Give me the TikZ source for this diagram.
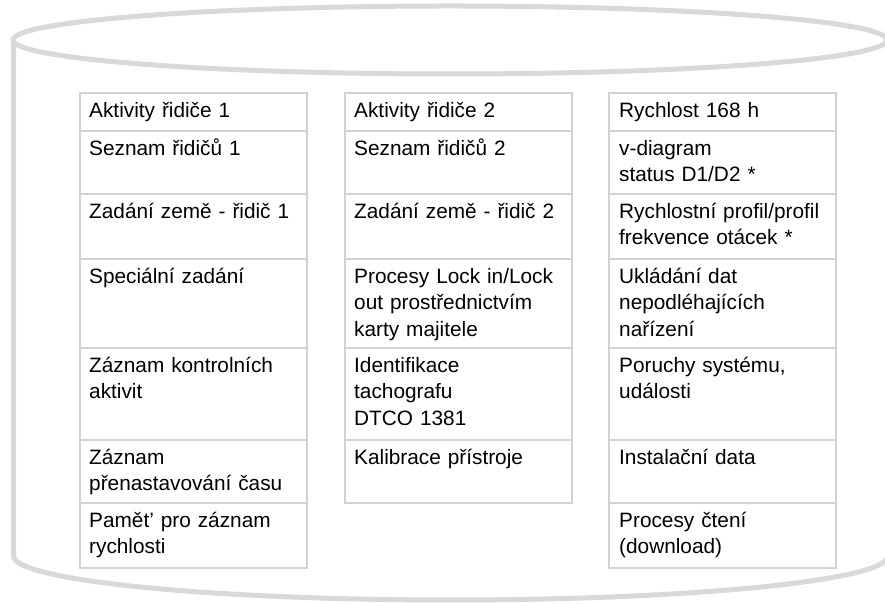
\documentclass[tikz,border=0pt]{standalone}
\usepackage{fontspec}
\setmainfont{Liberation Sans}
\definecolor{cylgray}{RGB}{217,217,217}
\definecolor{cellgray}{RGB}{210,210,210}
\tikzset{
  cyl/.style={draw=cylgray, line width=5pt},
  cell/.style={draw=cellgray, line width=1.6pt, anchor=north west, inner sep=0pt, minimum width=227pt},
  txt/.style={anchor=base west, inner sep=0pt, text width=216pt, align=left, font=\fontsize{20.8}{26.3}\selectfont},
}
\begin{document}
\begin{tikzpicture}[x=1pt,y=1pt]
\useasboundingbox (0,0) rectangle (885,604);
\clip (0,0) rectangle (885,604);
\fill[white] (0,0) rectangle (885,604);
% cylinder
\draw[cyl] (450,564) ellipse [x radius=437pt, y radius=34pt];
\draw[cyl] (13.5,564) -- (13.5,48) arc[start angle=180, end angle=360, x radius=437.25pt, y radius=44pt] -- (888,564);
% column 1
\node[cell, minimum height=38pt] (a1) at (79,512) {};
\node[cell, minimum height=63pt] (a2) at (79,474) {};
\node[cell, minimum height=65pt] (a3) at (79,411) {};
\node[cell, minimum height=89pt] (a4) at (79,346) {};
\node[cell, minimum height=92pt] (a5) at (79,257) {};
\node[cell, minimum height=63pt] (a6) at (79,165) {};
\node[cell, minimum height=65pt] (a7) at (79,102) {};
% column 2
\node[cell, minimum height=38pt] (b1) at (344,512) {};
\node[cell, minimum height=63pt] (b2) at (344,474) {};
\node[cell, minimum height=65pt] (b3) at (344,411) {};
\node[cell, minimum height=89pt] (b4) at (344,346) {};
\node[cell, minimum height=92pt] (b5) at (344,257) {};
\node[cell, minimum height=63pt] (b6) at (344,165) {};
% column 3
\node[cell, minimum height=38pt] (c1) at (608,512) {};
\node[cell, minimum height=63pt] (c2) at (608,474) {};
\node[cell, minimum height=65pt] (c3) at (608,411) {};
\node[cell, minimum height=89pt] (c4) at (608,346) {};
\node[cell, minimum height=92pt] (c5) at (608,257) {};
\node[cell, minimum height=63pt] (c6) at (608,165) {};
\node[cell, minimum height=65pt] (c7) at (608,102) {};
% texts column 1
\node[txt] (ta1) at ([xshift=10pt,yshift=-25.5pt]a1.north west) {Aktivity řidiče 1};
\node[txt] (ta2) at ([xshift=10pt,yshift=-25.5pt]a2.north west) {Seznam řidičů 1};
\node[txt] (ta3) at ([xshift=10pt,yshift=-25.5pt]a3.north west) {Zadání země - řidič 1};
\node[txt] (ta4) at ([xshift=10pt,yshift=-25.5pt]a4.north west) {Speciální zadání};
\node[txt] (ta5) at ([xshift=10pt,yshift=-25.5pt]a5.north west) {Záznam kontrolních\\aktivit};
\node[txt] (ta6) at ([xshift=10pt,yshift=-25.5pt]a6.north west) {Záznam\\přenastavování času};
\node[txt] (ta7) at ([xshift=10pt,yshift=-25.5pt]a7.north west) {Pamět’ pro záznam\\rychlosti};
% texts column 2
\node[txt] (tb1) at ([xshift=10pt,yshift=-25.5pt]b1.north west) {Aktivity řidiče 2};
\node[txt] (tb2) at ([xshift=10pt,yshift=-25.5pt]b2.north west) {Seznam řidičů 2};
\node[txt] (tb3) at ([xshift=10pt,yshift=-25.5pt]b3.north west) {Zadání země - řidič 2};
\node[txt] (tb4) at ([xshift=10pt,yshift=-25.5pt]b4.north west) {Procesy Lock in/Lock\\out prostřednictvím\\karty majitele};
\node[txt] (tb5) at ([xshift=10pt,yshift=-25.5pt]b5.north west) {Identifikace\\tachografu\\DTCO 1381};
\node[txt] (tb6) at ([xshift=10pt,yshift=-25.5pt]b6.north west) {Kalibrace přístroje};
% texts column 3
\node[txt] (tc1) at ([xshift=11pt,yshift=-25.5pt]c1.north west) {Rychlost 168 h};
\node[txt] (tc2) at ([xshift=11pt,yshift=-25.5pt]c2.north west) {v-diagram\\status D1/D2 *};
\node[txt] (tc3) at ([xshift=11pt,yshift=-25.5pt]c3.north west) {Rychlostní profil/profil\\frekvence otácek *};
\node[txt] (tc4) at ([xshift=11pt,yshift=-25.5pt]c4.north west) {Ukládání dat\\nepodléhajících\\nařízení};
\node[txt] (tc5) at ([xshift=11pt,yshift=-25.5pt]c5.north west) {Poruchy systému,\\události};
\node[txt] (tc6) at ([xshift=11pt,yshift=-25.5pt]c6.north west) {Instalační data};
\node[txt] (tc7) at ([xshift=11pt,yshift=-25.5pt]c7.north west) {Procesy čtení\\(download)};
\end{tikzpicture}
\end{document}
